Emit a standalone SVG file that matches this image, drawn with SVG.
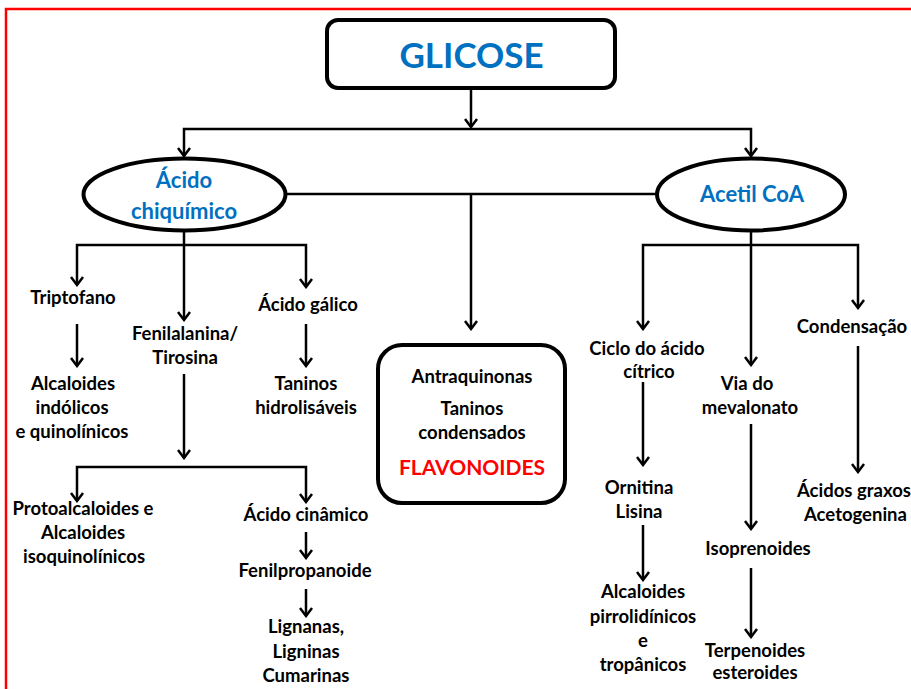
<svg xmlns="http://www.w3.org/2000/svg" width="911" height="689" viewBox="0 0 911 689">
<style>
text{font-family:Lato,"Open Sans","Liberation Sans",sans-serif;font-weight:bold;font-size:18.5px;fill:#000;text-anchor:middle}
.blue{fill:#0070C0;font-size:22px}
.red{fill:#FF0000;font-size:21px}
.start{text-anchor:start}
.shape{fill:#fff;stroke:#000;stroke-width:4}
.conn path{fill:none;stroke:#000;stroke-width:2.5}
.arr{marker-end:url(#ah)}
</style>
<defs>
<marker id="ah" markerUnits="userSpaceOnUse" viewBox="-10 -8 12 16" refX="0" refY="0" markerWidth="12" markerHeight="16" orient="auto">
<path d="M-8,-6 L0,0 L-8,6" fill="none" stroke="#000" stroke-width="2.5"/>
</marker>
</defs>
<rect width="911" height="689" fill="#fff"/>
<rect x="6" y="9" width="920" height="700" fill="none" stroke="#FF0000" stroke-width="2.5"/>

<g class="conn" id="connectors">
<path class="arr" d="M471,88 V127"/>
<path class="arr" d="M471,129 H184 V156"/>
<path class="arr" d="M471,129 H751 V156"/>
<path d="M286,194 H657"/>
<path class="arr" d="M471,194 V329"/>
<path class="arr" d="M184,231 V320"/>
<path class="arr" d="M184,245 H77 V285"/>
<path class="arr" d="M184,245 H306 V287"/>
<path class="arr" d="M77,324 V366"/>
<path class="arr" d="M306,324 V366"/>
<path class="arr" d="M184,374 V458"/>
<path class="arr" d="M184,467 H77 V501"/>
<path class="arr" d="M184,467 H306 V502"/>
<path class="arr" d="M306,532 V558"/>
<path class="arr" d="M306,589 V616"/>
<path class="arr" d="M751,231 V365"/>
<path class="arr" d="M751,245 H643 V329"/>
<path class="arr" d="M751,245 H858 V308"/>
<path class="arr" d="M643,382 V465"/>
<path class="arr" d="M858,346 V472"/>
<path class="arr" d="M751,424 V529"/>
<path class="arr" d="M643,525 V580"/>
<path class="arr" d="M751,568 V637"/>
</g>

<g id="glicose">
<rect class="shape" x="327" y="20" width="288" height="68" rx="11"/>
<text x="471.5" y="68" style="font-size:35px;fill:#0070C0">GLICOSE</text>
</g>
<g id="acido-chiquimico">
<ellipse class="shape" cx="184.5" cy="194.5" rx="101" ry="36"/>
<text class="blue" x="184" y="188">Ácido</text>
<text class="blue" x="184" y="219">chiquímico</text>
</g>
<g id="acetil-coa">
<ellipse class="shape" cx="751" cy="194.5" rx="94" ry="36"/>
<text class="blue" x="752" y="202">Acetil CoA</text>
</g>
<g id="triptofano"><text x="73" y="304">Triptofano</text></g>
<g id="alcaloides-indolicos">
<text x="73" y="390">Alcaloides</text>
<text x="72" y="414">indólicos</text>
<text x="72" y="438">e quinolínicos</text>
</g>
<g id="fenilalanina">
<text x="185" y="340">Fenilalanina/</text>
<text x="185" y="364">Tirosina</text>
</g>
<g id="acido-galico"><text x="308" y="311">Ácido gálico</text></g>
<g id="taninos-hidrolisaveis">
<text x="306" y="390">Taninos</text>
<text x="306" y="414">hidrolisáveis</text>
</g>
<g id="protoalcaloides">
<text x="83" y="515">Protoalcaloides e</text>
<text x="83" y="539">Alcaloides</text>
<text x="84" y="563">isoquinolínicos</text>
</g>
<g id="acido-cinamico"><text x="306" y="521">Ácido cinâmico</text></g>
<g id="fenilpropanoide"><text x="305" y="577">Fenilpropanoide</text></g>
<g id="lignanas">
<text x="306" y="633">Lignanas,</text>
<text x="306" y="658">Ligninas</text>
<text x="306" y="682">Cumarinas</text>
</g>
<g id="flavonoides-box">
<rect class="shape" x="378" y="345" width="187" height="158" rx="24"/>
<text x="472" y="383">Antraquinonas</text>
<text x="472" y="415">Taninos</text>
<text x="472" y="439">condensados</text>
<text class="red" x="472" y="475">FLAVONOIDES</text>
</g>
<g id="ciclo-acido-citrico">
<text x="647" y="355">Ciclo do ácido</text>
<text x="649" y="378">cítrico</text>
</g>
<g id="via-mevalonato">
<text x="747" y="390">Via do</text>
<text x="750" y="414">mevalonato</text>
</g>
<g id="condensacao"><text x="852" y="333">Condensação</text></g>
<g id="ornitina">
<text x="639" y="494">Ornitina</text>
<text x="639" y="518">Lisina</text>
</g>
<g id="alcaloides-pirrolidinicos">
<text x="643" y="598">Alcaloides</text>
<text x="643" y="623">pirrolidínicos</text>
<text x="643" y="647">e</text>
<text x="643" y="671">tropânicos</text>
</g>
<g id="isoprenoides"><text x="758" y="555">Isoprenoides</text></g>
<g id="terpenoides">
<text x="755" y="657">Terpenoides</text>
<text x="755" y="679">esteroides</text>
</g>
<g id="acidos-graxos">
<text class="start" x="797" y="497">Ácidos graxos</text>
<text class="start" x="804" y="521">Acetogenina</text>
</g>
</svg>
